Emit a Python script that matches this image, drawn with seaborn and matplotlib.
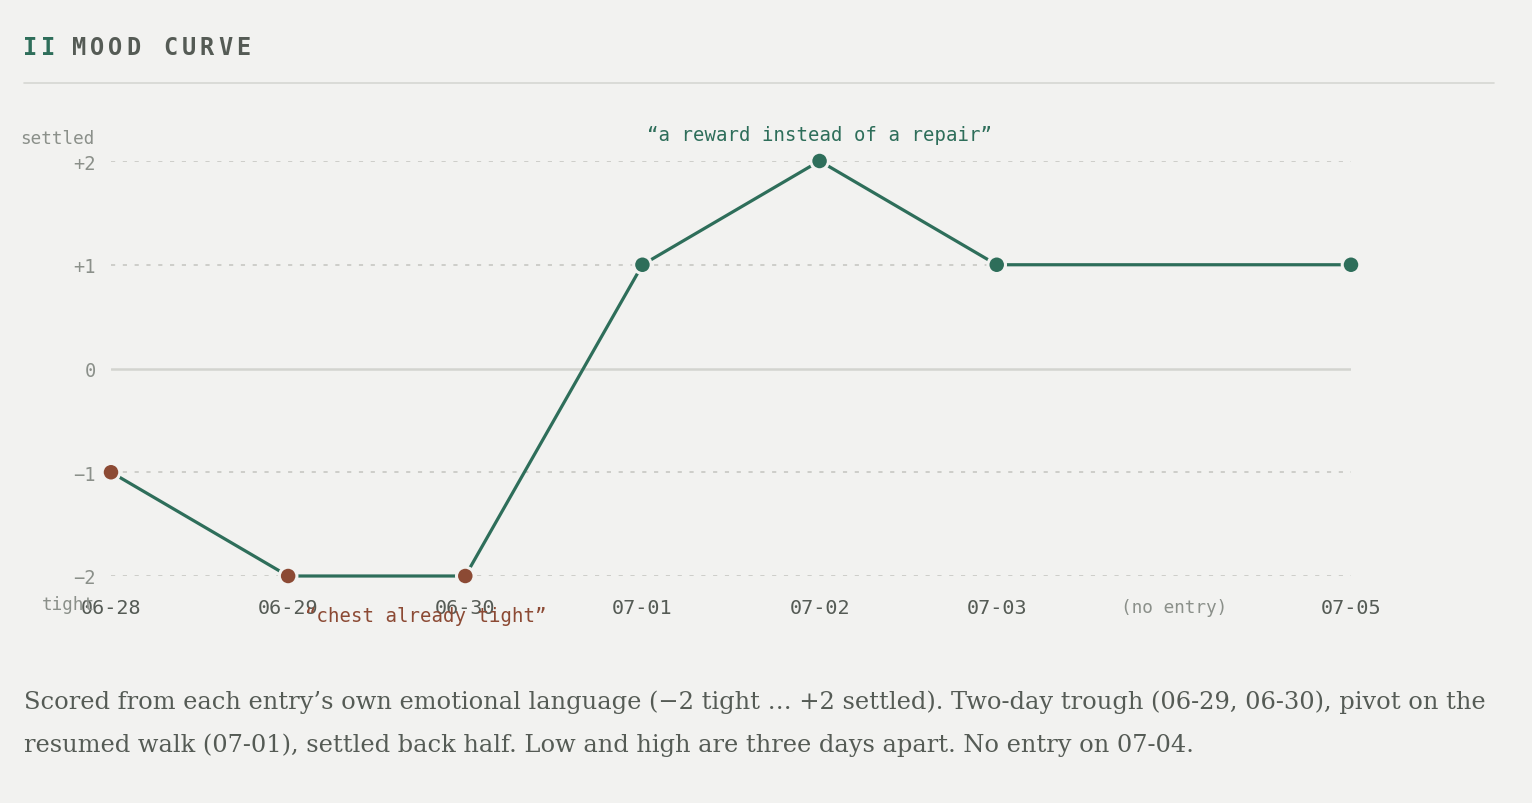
import numpy as np
import pandas as pd
import matplotlib
matplotlib.use("Agg")
import matplotlib.pyplot as plt
import seaborn as sns

# datos
dates = ["06-28", "06-29", "06-30", "07-01", "07-02", "07-03", "07-04", "07-05"]
tick_labels = ["06-28", "06-29", "06-30", "07-01", "07-02", "07-03", "(no entry)", "07-05"]
scores = [-1, -2, -2, 1, 2, 1, np.nan, 1]
y_ticks = [2, 1, 0, -1, -2]
y_tick_labels = ["+2", "+1", "0", "\u22121", "\u22122"]

note_high = "\u201ca reward instead of a repair\u201d"
note_low = "\u201cchest already tight\u201d"
caption = [
    "Scored from each entry\u2019s own emotional language (\u22122 tight \u2026 +2 settled). Two-day trough (06-29, 06-30), pivot on the",
    "resumed walk (07-01), settled back half. Low and high are three days apart. No entry on 07-04.",
]

BG = "#f2f2f0"
GREEN = "#2e6e5a"
RED = "#8c4a34"
INK = "#555b55"
MUTED = "#8b908a"
GRID = "#cdcec9"
MONO = "DejaVu Sans Mono"

W, H = 1532, 804


def fx(px):
    return px / W


def fy(py):
    return 1 - py / H


def main():
    sns.set_theme(style="white")
    plt.rcParams["font.family"] = ["DejaVu Sans"]
    plt.rcParams["lines.scale_dashes"] = False

    df = pd.DataFrame({"date": dates, "idx": np.arange(len(dates)), "score": scores})
    df = df.dropna()
    df["tone"] = np.where(df["score"] < 0, "neg", "pos")

    fig = plt.figure(figsize=(W / 100, H / 100), dpi=100, facecolor=BG)
    ax = fig.add_axes([fx(111), fy(577), fx(1351) - fx(111), fy(162) - fy(577)])
    ax.set_facecolor(BG)

    # rejilla
    for v in [2, 1, -1, -2]:
        ax.axhline(v, color=GRID, lw=1.4, ls=(0, (3, 5.5)), zorder=0)
    ax.axhline(0, color="#d3d4cf", lw=1.8, zorder=0)

    sns.lineplot(data=df, x="idx", y="score", color=GREEN, lw=2.3, ax=ax,
                 zorder=2, clip_on=False)
    sns.scatterplot(data=df, x="idx", y="score", hue="tone",
                    palette={"neg": RED, "pos": GREEN}, s=160, edgecolor=BG,
                    linewidth=2.2, ax=ax, legend=False, zorder=3, clip_on=False)

    ax.set_xlim(0, 7)
    ax.set_ylim(-2, 2)
    for s in ax.spines.values():
        s.set_visible(False)
    ax.set_xlabel("")
    ax.set_ylabel("")

    ax.set_yticks(y_ticks)
    ax.set_yticklabels(y_tick_labels, fontfamily=MONO, fontsize=13.5, color=MUTED)
    ax.set_xticks(np.arange(len(tick_labels)))
    ax.set_xticklabels(tick_labels, fontfamily=MONO, fontsize=14.5, color=INK)
    xl = ax.get_xticklabels()[6]
    xl.set_color(MUTED)
    xl.set_fontsize(12.8)
    ax.tick_params(axis="y", length=0, pad=11)
    ax.tick_params(axis="x", length=0, pad=16)

    # notas
    ax.annotate(note_high, xy=(4, 2), xytext=(0, 27), textcoords="offset pixels",
                ha="center", va="center", fontfamily=MONO, fontsize=13.7, color=GREEN)
    ax.annotate(note_low, xy=(1, -2), xytext=(17, -39), textcoords="offset pixels",
                ha="left", va="center", fontfamily=MONO, fontsize=13.7, color=RED)

    fig.text(fx(95), fy(139), "settled", ha="right", va="center",
             fontfamily=MONO, fontsize=12.7, color=MUTED)
    fig.text(fx(95), fy(605), "tight", ha="right", va="center",
             fontfamily=MONO, fontsize=12.7, color=MUTED, zorder=0)

    # título con espaciado
    for ch, cx in zip("II", [30, 48]):
        fig.text(fx(cx), fy(48), ch, ha="center", va="center", fontfamily=MONO,
                 fontsize=17, fontweight="bold", color=GREEN)
    for i, ch in enumerate("MOOD CURVE"):
        if ch == " ":
            continue
        fig.text(fx(79 + i * 18.3), fy(48), ch, ha="center", va="center",
                 fontfamily=MONO, fontsize=17, fontweight="bold", color=INK)

    fig.add_artist(plt.Line2D([fx(24), fx(1494)], [fy(84), fy(84)],
                              color="#d6d7d2", lw=1.2))

    # pie de figura
    renderer = fig.canvas.get_renderer()
    t1 = fig.text(fx(24), fy(709), caption[0], ha="left", va="baseline",
                  fontfamily="DejaVu Serif", fontsize=17, color=INK)
    w = t1.get_window_extent(renderer).width
    size = 17 * 1458 / w
    t1.set_fontsize(size)
    fig.text(fx(24), fy(752), caption[1], ha="left", va="baseline",
             fontfamily="DejaVu Serif", fontsize=size, color=INK)

    fig.savefig("out.png", dpi=100, facecolor=BG)


if __name__ == "__main__":
    main()
